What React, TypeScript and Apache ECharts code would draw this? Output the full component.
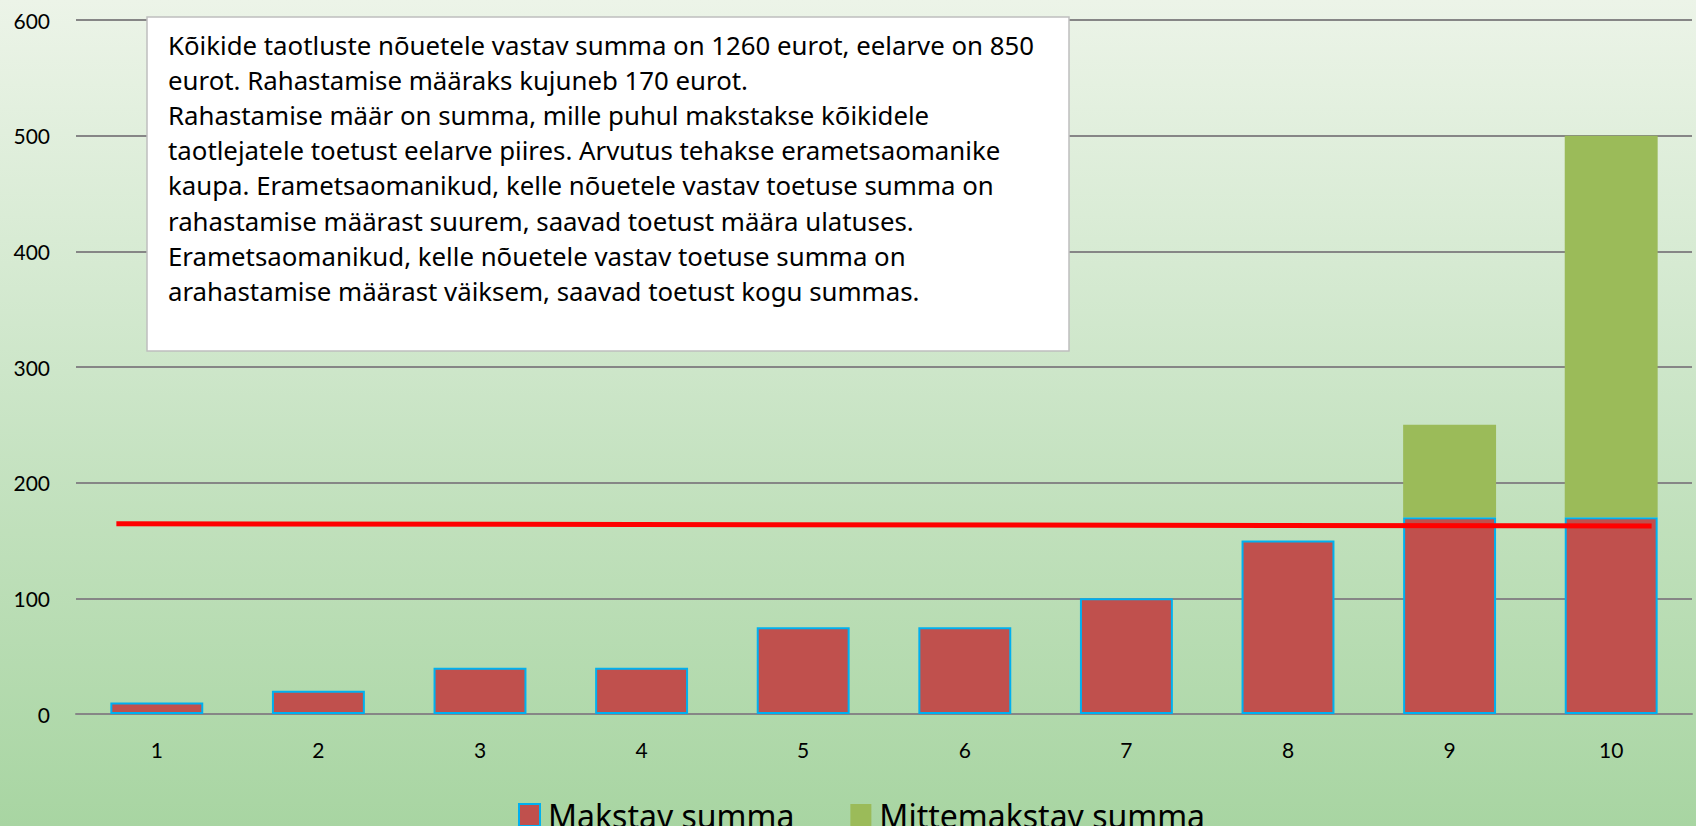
import React, { useEffect, useRef } from "react";
import * as echarts from "echarts";

const categories = ["1", "2", "3", "4", "5", "6", "7", "8", "9", "10"];
const paidValues = [10, 20, 40, 40, 75, 75, 100, 150, 170, 170];
const unpaidValues = [0, 0, 0, 0, 0, 0, 0, 0, 80, 330];
const rateLine = [
  [0.25, 164.5],
  [9.75, 162.5],
];
const yTicks = { min: 0, max: 600, interval: 100 };
const noteLines = [
  "Kõikide taotluste nõuetele vastav summa on 1260 eurot, eelarve on 850",
  "eurot. Rahastamise määraks kujuneb 170 eurot.",
  "Rahastamise määr on summa, mille puhul makstakse kõikidele",
  "taotlejatele toetust eelarve piires. Arvutus tehakse erametsaomanike",
  "kaupa. Erametsaomanikud, kelle nõuetele vastav toetuse summa on",
  "rahastamise määrast suurem, saavad toetust määra ulatuses.",
  "Erametsaomanikud, kelle nõuetele vastav toetuse summa on",
  "arahastamise määrast väiksem, saavad toetust kogu summas.",
];

const FONT = "Lato";
const WIDE = "Noto Sans";

export default function App() {
  const ref = useRef<HTMLDivElement>(null);
  useEffect(() => {
    document.body.style.margin = "0";
    const chart = echarts.init(ref.current!, undefined, { renderer: "svg" });
    chart.setOption({
      animation: false,
      backgroundColor: new echarts.graphic.LinearGradient(0, 0, 0, 1, [
        { offset: 0, color: "#ecf4e8" },
        { offset: 0.45, color: "#cde6c9" },
        { offset: 1, color: "#a8d5a2" },
      ]),
      textStyle: { fontFamily: FONT },
      grid: { left: 76, right: 4, top: 20, bottom: 112, containLabel: false },
      legend: {
        data: ["Makstav summa", "Mittemakstav summa"],
        left: 513,
        top: 794,
        icon: "rect",
        itemWidth: 21,
        itemHeight: 22,
        itemGap: 56,
        textStyle: { fontSize: 32, color: "#000", fontFamily: WIDE, padding: [0, 0, 8, 3] },
      },
      xAxis: [
        {
          type: "category",
          data: categories,
          axisLine: { lineStyle: { color: "#868686", width: 2 } },
          axisTick: { show: false },
          axisLabel: { fontSize: 21, color: "#000", margin: 25 },
        },
        { type: "value", min: 0, max: 10, show: false },
      ],
      yAxis: {
        type: "value",
        min: yTicks.min,
        max: yTicks.max,
        interval: yTicks.interval,
        axisLine: { show: false },
        axisTick: { show: false },
        axisLabel: { fontSize: 21, color: "#000", margin: 26 },
        splitLine: { lineStyle: { color: "#868686", width: 2 } },
      },
      series: [
        {
          name: "Makstav summa",
          type: "bar",
          stack: "s",
          data: paidValues,
          barWidth: "57.5%",
          itemStyle: { color: "#c0504d", borderColor: "#00b0f0", borderWidth: 2 },
        },
        {
          name: "Mittemakstav summa",
          type: "bar",
          stack: "s",
          data: unpaidValues,
          barWidth: "57.5%",
          itemStyle: { color: "#9bbb59" },
        },
        {
          name: "rate",
          type: "line",
          xAxisIndex: 1,
          data: rateLine,
          symbol: "none",
          lineStyle: { color: "#ff0000", width: 5 },
          z: 5,
        },
      ],
      graphic: {
        elements: [
          {
            type: "rect",
            x: 147,
            y: 17,
            z: 100,
            shape: { x: 0, y: 0, width: 922, height: 334 },
            style: { fill: "#ffffff", stroke: "#bfbfbf", lineWidth: 1.5 },
          },
          {
            type: "text",
            x: 168,
            y: 27,
            z: 101,
            style: {
              text: noteLines.join("\n"),
              fontSize: 25.8,
              lineHeight: 35.2,
              fontFamily: WIDE,
              fill: "#000",
            },
          },
        ],
      },
    });
    return () => chart.dispose();
  }, []);
  return (
    <div
      ref={ref}
      style={{ position: "fixed", left: 0, top: 0, width: 1696, height: 826 }}
    />
  );
}
